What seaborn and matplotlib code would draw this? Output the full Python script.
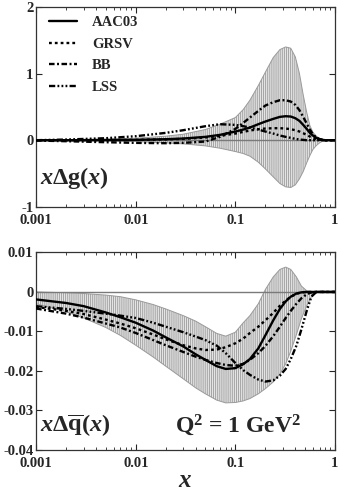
import numpy as np
import pandas as pd
import matplotlib
matplotlib.use("Agg")
import matplotlib.pyplot as plt
import matplotlib.ticker as mticker
import seaborn as sns

# ---- data: x*Delta g(x) (top panel) ----
xg = [0.001, 0.002, 0.005, 0.01, 0.02, 0.03, 0.05, 0.07, 0.1, 0.12, 0.14, 0.17, 0.2, 0.24,
      0.28, 0.32, 0.36, 0.4, 0.44, 0.48, 0.52, 0.56, 0.6, 0.65, 0.7, 0.75, 0.8, 0.9, 1.0]
g_band_hi = [0.005, 0.008, 0.015, 0.03, 0.06, 0.09, 0.16, 0.24, 0.34, 0.46, 0.6, 0.82, 1.02, 1.24,
             1.36, 1.40, 1.38, 1.25, 1.0, 0.68, 0.42, 0.22, 0.12, 0.06, 0.03, 0.015, 0.005, 0.0, 0.0]
g_band_lo = [-0.005, -0.007, -0.012, -0.02, -0.04, -0.055, -0.085, -0.12, -0.17, -0.2, -0.24, -0.33, -0.43, -0.55,
             -0.65, -0.70, -0.71, -0.67, -0.58, -0.47, -0.34, -0.23, -0.14, -0.08, -0.04, -0.015, -0.005, 0.0, 0.0]
g_aac03 = [0.0, 0.0, 0.002, 0.005, 0.015, 0.025, 0.05, 0.08, 0.13, 0.16, 0.19, 0.24, 0.28, 0.32,
           0.35, 0.36, 0.355, 0.33, 0.29, 0.23, 0.17, 0.11, 0.07, 0.035, 0.015, 0.005, 0.0, 0.0, 0.0]
g_grsv = [0.0, 0.0, 0.002, 0.005, 0.012, 0.02, 0.04, 0.065, 0.1, 0.125, 0.145, 0.165, 0.175, 0.18,
          0.18, 0.175, 0.165, 0.15, 0.13, 0.105, 0.08, 0.055, 0.035, 0.02, 0.008, 0.002, 0.0, 0.0, 0.0]
g_bb = [-0.005, -0.015, -0.03, -0.04, -0.045, -0.04, -0.02, 0.05, 0.17, 0.26, 0.34, 0.44, 0.52, 0.57,
        0.6, 0.6, 0.58, 0.53, 0.45, 0.35, 0.25, 0.16, 0.09, 0.04, 0.015, 0.005, 0.0, 0.0, 0.0]
g_lss = [0.0, 0.01, 0.03, 0.06, 0.11, 0.15, 0.21, 0.24, 0.23, 0.21, 0.19, 0.16, 0.13, 0.1,
         0.07, 0.05, 0.035, 0.02, 0.01, 0.005, 0.0, 0.0, 0.0, 0.0, 0.0, 0.0, 0.0, 0.0, 0.0]

# ---- data: x*Delta qbar(x) (bottom panel) ----
xq = [0.001, 0.002, 0.003, 0.005, 0.007, 0.01, 0.015, 0.02, 0.03, 0.04, 0.05, 0.065, 0.08, 0.1, 0.12,
      0.14, 0.17, 0.2, 0.24, 0.28, 0.32, 0.36, 0.41, 0.46, 0.52, 0.58, 0.65, 0.75, 0.85, 1.0]
q_band_hi = [0.0, -0.0002, -0.0004, -0.0008, -0.0012, -0.002, -0.0032, -0.0043, -0.006, -0.0074, -0.0088,
             -0.0105, -0.0112, -0.0102, -0.0078, -0.006, -0.003, 0.0006, 0.0038, 0.0057, 0.0063, 0.0057,
             0.0038, 0.0015, 0.0003, 0.0, 0.0, 0.0, 0.0, 0.0]
q_band_lo = [-0.003, -0.005, -0.0066, -0.009, -0.011, -0.0135, -0.0165, -0.0188, -0.022, -0.0243, -0.0258,
             -0.0274, -0.0281, -0.028, -0.0276, -0.027, -0.0258, -0.0245, -0.0228, -0.0208, -0.0182, -0.015,
             -0.0108, -0.0068, -0.0035, -0.0012, 0.0, 0.0, 0.0, 0.0]
q_aac03 = [-0.0019, -0.0028, -0.0036, -0.0052, -0.0064, -0.0078, -0.0098, -0.0115, -0.0138, -0.0158, -0.0172,
           -0.0188, -0.0195, -0.0193, -0.0183, -0.017, -0.0143, -0.011, -0.0072, -0.0043, -0.0024, -0.0012,
           -0.0004, -0.0001, 0.0, 0.0, 0.0, 0.0, 0.0, 0.0]
q_grsv = [-0.0038, -0.0048, -0.0056, -0.007, -0.008, -0.0092, -0.0108, -0.012, -0.0135, -0.0143, -0.0147,
          -0.0146, -0.014, -0.013, -0.0118, -0.0104, -0.0088, -0.0072, -0.0053, -0.0035, -0.0022, -0.0012,
          -0.0005, -0.0001, 0.0, 0.0, 0.0, 0.0, 0.0, 0.0]
q_bb = [-0.0042, -0.0055, -0.0065, -0.008, -0.009, -0.0104, -0.0122, -0.0135, -0.0152, -0.0164, -0.0172,
        -0.018, -0.0185, -0.0187, -0.0182, -0.0172, -0.0155, -0.0137, -0.0112, -0.0088, -0.0066, -0.0048,
        -0.003, -0.0016, -0.0006, -0.0001, 0.0, 0.0, 0.0, 0.0]
q_lss = [-0.0036, -0.0043, -0.0048, -0.0055, -0.006, -0.0066, -0.0078, -0.0088, -0.0102, -0.0113, -0.0122,
         -0.0136, -0.0155, -0.018, -0.0198, -0.021, -0.0222, -0.0227, -0.0224, -0.0212, -0.0195, -0.017,
         -0.0136, -0.0095, -0.0048, -0.0012, 0.0, 0.0, 0.0, 0.0]

series_names = ["AAC03", "GRSV", "BB", "LSS"]
x_ticks = [0.001, 0.01, 0.1, 1]
x_tick_labels = ["0.001", "0.01", "0.1", "1"]
g_yticks = [-1, 0, 1, 2]
q_yticks = [0.01, 0, -0.01, -0.02, -0.03, -0.04]
q_ytick_labels = ["0.01", "0", "-0.01", "-0.02", "-0.03", "-0.04"]

sns.set_theme(style="ticks")
plt.rcParams["font.family"] = ["Liberation Serif", "DejaVu Serif"]
plt.rcParams["font.weight"] = "bold"
plt.rcParams["mathtext.fontset"] = "custom"
plt.rcParams["mathtext.rm"] = "Liberation Serif:bold"
plt.rcParams["mathtext.bf"] = "Liberation Serif:bold"
plt.rcParams["mathtext.it"] = "Liberation Serif:bold:italic"
plt.rcParams["lines.scale_dashes"] = False
plt.rcParams["hatch.linewidth"] = 0.6
plt.rcParams["hatch.color"] = "#a2a2a2"

styles = {
    "AAC03": dict(dashes="", lw=1.7),
    "GRSV": dict(dashes=(2.0, 2.2), lw=1.7),
    "BB": dict(dashes=(4.0, 1.8, 1.4, 1.8), lw=1.7),
    "LSS": dict(dashes=(4.5, 1.6, 1.3, 1.6, 1.3, 1.6, 1.3, 1.6), lw=1.7),
}

fig = plt.figure(figsize=(3.38, 4.96), dpi=100)
ax1 = fig.add_axes([0.107, 0.583, 0.884, 0.403])
ax2 = fig.add_axes([0.107, 0.093, 0.884, 0.398])


def draw_panel(ax, xs, lo, hi, curves):
    ax.fill_between(xs, lo, hi, facecolor="#e4e4e4", edgecolor="#9a9a9a",
                    hatch="|" * 8, linewidth=0.7, zorder=1)
    ax.axhline(0, color="#7a7a7a", lw=1.0, zorder=2)
    for name, ys in zip(series_names, curves):
        st = styles[name]
        sns.lineplot(x=xs, y=ys, ax=ax, color="black", lw=st["lw"], label=name, zorder=3)
        ln = ax.lines[-1]
        if st["dashes"]:
            ln.set_dashes(st["dashes"])
    ax.set_xscale("log")
    ax.set_xlim(0.001, 1)
    ax.set_xticks(x_ticks, x_tick_labels, fontweight="bold")
    ax.xaxis.set_minor_locator(mticker.LogLocator(base=10, subs=np.arange(2, 10)))
    ax.xaxis.set_minor_formatter(mticker.NullFormatter())
    ax.tick_params(axis="both", which="major", direction="in", length=4, width=0.8,
                   labelsize=10.5, top=True, right=True)
    ax.tick_params(axis="x", which="major", pad=5)
    ax.tick_params(axis="y", which="major", pad=2)
    ax.tick_params(axis="x", which="minor", direction="in", length=2, width=0.6, top=True)
    for sp in ax.spines.values():
        sp.set_linewidth(0.9)
        sp.set_color("#333333")
    ax.set_xlabel("")
    ax.set_ylabel("")


draw_panel(ax1, xg, g_band_lo, g_band_hi, [g_aac03, g_grsv, g_bb, g_lss])
ax1.set_ylim(-1, 2)
ax1.set_yticks(g_yticks, [str(v) for v in g_yticks], fontweight="bold")
ax1.legend(loc="upper left", frameon=False, prop={"size": 10.5, "weight": "bold"},
           handlelength=1.9, handletextpad=1.0, labelspacing=0.58,
           borderaxespad=0.0, bbox_to_anchor=(0.025, 0.985))
ax1.text(0.013, 0.145, r"$x\Delta\mathrm{g}(x)$", transform=ax1.transAxes,
         fontsize=17.5, va="center", ha="left")

draw_panel(ax2, xq, q_band_lo, q_band_hi, [q_aac03, q_grsv, q_bb, q_lss])
ax2.get_legend().remove()
ax2.set_ylim(-0.04, 0.01)
ax2.set_yticks(q_yticks, q_ytick_labels, fontweight="bold")
ax2.text(0.013, 0.125, r"$x\Delta\overline{\mathrm{q}}(x)$", transform=ax2.transAxes,
         fontsize=17.5, va="center", ha="left")
ax2.text(0.465, 0.125, r"Q$^2$ = 1 GeV$^2$", transform=ax2.transAxes,
         fontsize=17, fontweight="bold", va="center", ha="left")
ax2.set_xlabel(r"$x$", fontsize=18, labelpad=0)

fig.savefig("out.png", dpi=100)
